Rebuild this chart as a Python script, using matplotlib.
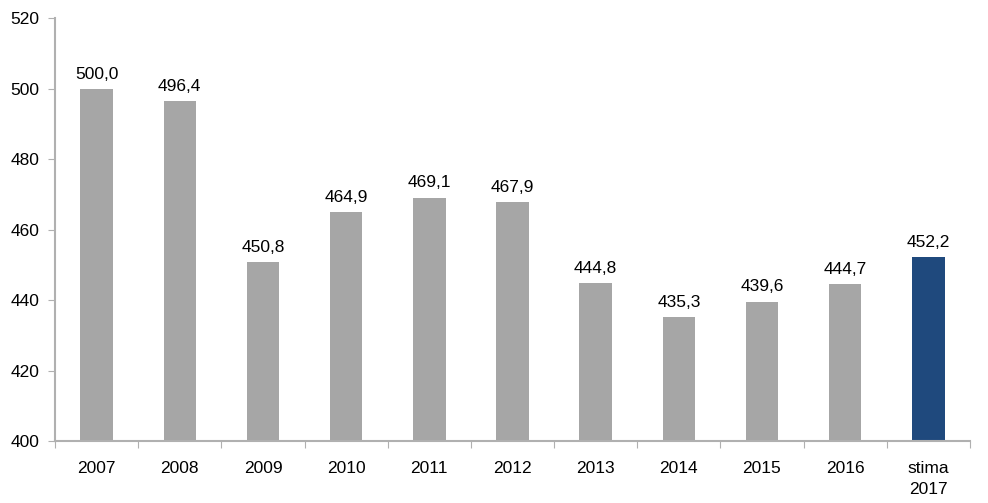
import matplotlib.pyplot as plt
import numpy as np

categories = ["2007", "2008", "2009", "2010", "2011", "2012", "2013",
              "2014", "2015", "2016", "stima\n2017"]
values = [500.0, 496.4, 450.8, 464.9, 469.1, 467.9, 444.8,
          435.3, 439.6, 444.7, 452.2]

plt.rcParams['font.family'] = ['Liberation Sans Narrow', 'Liberation Sans', 'DejaVu Sans']

fig = plt.figure(figsize=(9.88, 5.03), dpi=100)
ax = fig.add_axes([0.0557, 0.123, 0.926, 0.841])

x = np.arange(len(categories))
colors = ["#a6a6a6"] * (len(values) - 1) + ["#1f497d"]
ax.bar(x, [v - 400 for v in values], bottom=400, width=0.39, color=colors)

for xi, v in zip(x, values):
    ax.text(xi, v + 2, f"{v:.1f}".replace(".", ","), ha="center", va="bottom", fontsize=12.5)

ax.set_xlim(-0.5, len(categories) - 0.5)
ax.set_ylim(400, 520)
ax.set_yticks(range(400, 521, 20))

# tick marks between categories, labels centered
ax.set_xticks(np.arange(-0.5, len(categories), 1))
ax.set_xticklabels([])
ax.set_xticks(x, minor=True)
ax.set_xticklabels(categories, minor=True, linespacing=1.55)
ax.tick_params(axis="x", which="minor", length=0, pad=14, labelsize=12.5)
ax.tick_params(axis="x", which="major", length=5, color="#b0b0b0", direction="out")
ax.tick_params(axis="y", length=5, color="#b0b0b0", labelsize=12.5, pad=6)

for s in ["top", "right"]:
    ax.spines[s].set_visible(False)
for s in ["left", "bottom"]:
    ax.spines[s].set_color("#b0b0b0")
    ax.spines[s].set_linewidth(1.5)

fig.savefig("out.png", dpi=100)
